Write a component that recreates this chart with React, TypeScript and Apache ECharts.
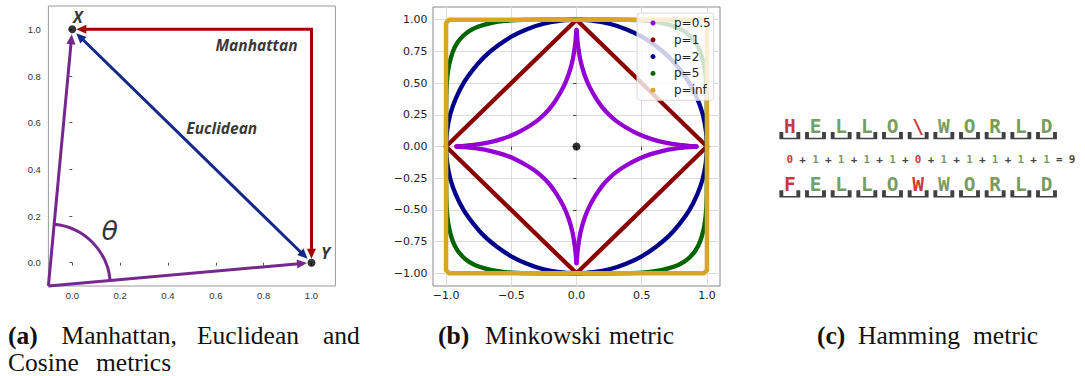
import React, { useEffect, useRef } from 'react';
import * as echarts from 'echarts';

type Pt = [number, number];

// ---------- (a) Manhattan, Euclidean and cosine geometry ----------
const pointX: Pt = [0, 1];
const pointY: Pt = [1, 0];
const vectorOrigin: Pt = [-0.1, -0.1];
const manhattanCorner: Pt = [1, 1];
const ticksA = [0, 0.2, 0.4, 0.6, 0.8, 1.0];
const annotationsA: { text: string; at: Pt }[] = [
  { text: 'Manhattan', at: [0.77, 0.933] },
  { text: 'Euclidean', at: [0.625, 0.576] },
];
const thetaAt: Pt = [0.157, 0.14];

// ---------- (b) Minkowski unit balls, first quadrant (mirrored to the others) ----------
const ballP05: Pt[] = [
  [0, 0.92], [0.003, 0.89], [0.01, 0.81], [0.03, 0.68], [0.06, 0.57], [0.1, 0.47],
  [0.15, 0.38], [0.2, 0.306], [0.25, 0.25], [0.306, 0.2], [0.38, 0.15], [0.47, 0.1],
  [0.57, 0.06], [0.68, 0.03], [0.81, 0.01], [0.89, 0.003], [0.92, 0],
];
const ballP1: Pt[] = [[0, 1], [1, 0]];
const ballP2: Pt[] = [
  [0, 1], [0.13, 0.991], [0.26, 0.966], [0.38, 0.925], [0.5, 0.866], [0.61, 0.79],
  [0.707, 0.707], [0.79, 0.61], [0.866, 0.5], [0.925, 0.38], [0.966, 0.26], [0.991, 0.13], [1, 0],
];
const ballP5: Pt[] = [
  [0, 1], [0.4, 0.998], [0.55, 0.99], [0.65, 0.975], [0.75, 0.947], [0.82, 0.912],
  [0.87, 0.871], [0.912, 0.82], [0.947, 0.75], [0.975, 0.65], [0.99, 0.55], [0.998, 0.4], [1, 0],
];
const ballPInf: Pt[] = [[0, 1], [0.975, 1], [1, 0.975], [1, 0]];
const pNames = ['p=0.5', 'p=1', 'p=2', 'p=5', 'p=inf'];
const centre: Pt = [0, 0];
const ticksBX = [-1, -0.5, 0, 0.5, 1];
const ticksBY = [-1, -0.75, -0.5, -0.25, 0, 0.25, 0.5, 0.75, 1];

// ---------- (c) Hamming comparison ----------
const wordTop = ['H', 'E', 'L', 'L', 'O', '\\', 'W', 'O', 'R', 'L', 'D'];
const wordBottom = ['F', 'E', 'L', 'L', 'O', 'W', 'W', 'O', 'R', 'L', 'D'];
const charMatch = [0, 1, 1, 1, 1, 0, 1, 1, 1, 1, 1];
const hammingSum = 9;

// ---------- captions: word, left edge, row, bold ----------
const captionWords: [string, number, number, boolean][] = [
  ['(a)', 8, 0, true],
  ['Manhattan,', 61.5, 0, false],
  ['Euclidean', 197, 0, false],
  ['and', 323, 0, false],
  ['Cosine', 8, 1, false],
  ['metrics', 96, 1, false],
  ['(b)', 438, 0, true],
  ['Minkowski', 485, 0, false],
  ['metric', 609, 0, false],
  ['(c)', 817, 0, true],
  ['Hamming', 858, 0, false],
  ['metric', 973, 0, false],
];

// ---------- styles ----------
const RED_A = '#a40000';
const BLUE_A = '#14288a';
const PURPLE_A = '#76288e';
const P_COLORS = ['#9400D3', '#8B0000', '#00008B', '#006400', '#DAA520'];
const GREEN_C = '#548235';
const RED_C = '#c00000';
const HEAD_LEN = 10;
const HEAD_HALF = 4.5;
const THETA_RADIUS = 62;
const SANS = '"DejaVu Sans", sans-serif';
const SANS_A = '"Liberation Sans", Arial, sans-serif';
const MONO = '"DejaVu Sans Mono", monospace';
const SERIF = '"Liberation Serif", "Times New Roman", serif';
const ITALIC_FONT = '"Open Sans", "DejaVu Sans", sans-serif';
const CAPTION_SIZE = 25.5;
const CAPTION_ROWS = [335, 362];

const minusFmt = (digits: number) => (v: number) => v.toFixed(digits).replace('-', '\u2212');

function towards(a: number[], b: number[], d: number): number[] {
  const dx = b[0] - a[0];
  const dy = b[1] - a[1];
  const len = Math.hypot(dx, dy) || 1;
  return [a[0] + (dx / len) * d, a[1] + (dy / len) * d];
}

function arrowHead(tip: number[], from: number[], color: string) {
  const dx = tip[0] - from[0];
  const dy = tip[1] - from[1];
  const len = Math.hypot(dx, dy) || 1;
  const ux = dx / len;
  const uy = dy / len;
  const bx = tip[0] - ux * HEAD_LEN;
  const by = tip[1] - uy * HEAD_LEN;
  return {
    type: 'polygon',
    shape: {
      points: [tip, [bx - uy * HEAD_HALF, by + ux * HEAD_HALF], [bx + uy * HEAD_HALF, by - ux * HEAD_HALF]],
    },
    style: { fill: color },
  };
}

// Polyline through data points with optional arrow heads, stopped short of the end points
function arrowSeries(path: Pt[], color: string, gap: number, headStart: boolean, headEnd: boolean) {
  return {
    type: 'custom',
    xAxisIndex: 0,
    yAxisIndex: 0,
    silent: true,
    z: 3,
    data: [[path[0][0], path[0][1]]],
    renderItem: (_params: any, api: any) => {
      const pts = path.map((p) => api.coord(p) as number[]);
      const n = pts.length;
      const line = pts.map((p) => p.slice());
      const heads: any[] = [];
      if (headStart) {
        const tip = towards(pts[0], pts[1], gap);
        heads.push(arrowHead(tip, pts[1], color));
        line[0] = towards(pts[0], pts[1], gap + HEAD_LEN * 0.8);
      }
      if (headEnd) {
        const tip = towards(pts[n - 1], pts[n - 2], gap);
        heads.push(arrowHead(tip, pts[n - 2], color));
        line[n - 1] = towards(pts[n - 1], pts[n - 2], gap + HEAD_LEN * 0.8);
      }
      return {
        type: 'group',
        children: [
          { type: 'polyline', shape: { points: line }, style: { stroke: color, lineWidth: 3, fill: 'none' } },
          ...heads,
        ],
      };
    },
  };
}

function buildOption(): any {
  const series: any[] = [];

  // (a)
  series.push(arrowSeries([pointY, manhattanCorner, pointX], RED_A, 4, true, true));
  series.push(arrowSeries([pointX, pointY], BLUE_A, 5.5, true, true));
  series.push(arrowSeries([vectorOrigin, pointX], PURPLE_A, 5, false, true));
  series.push(arrowSeries([vectorOrigin, pointY], PURPLE_A, 4.5, false, true));
  series.push({
    type: 'custom',
    xAxisIndex: 0,
    yAxisIndex: 0,
    silent: true,
    z: 3,
    data: [[vectorOrigin[0], vectorOrigin[1]]],
    renderItem: (_p: any, api: any) => {
      const o = api.coord(vectorOrigin);
      const toX = api.coord(pointX);
      const toY = api.coord(pointY);
      return {
        type: 'arc',
        shape: {
          cx: o[0],
          cy: o[1],
          r: THETA_RADIUS,
          startAngle: Math.atan2(toX[1] - o[1], toX[0] - o[0]),
          endAngle: Math.atan2(toY[1] - o[1], toY[0] - o[0]),
          clockwise: true,
        },
        style: { stroke: PURPLE_A, lineWidth: 3, fill: 'none' },
      };
    },
  });
  const pointLabel = {
    show: true,
    position: 'inside',
    fontFamily: ITALIC_FONT,
    fontWeight: 'bold',
    fontStyle: 'italic',
    fontSize: 16,
    color: '#000',
  };
  series.push({
    type: 'scatter',
    xAxisIndex: 0,
    yAxisIndex: 0,
    silent: true,
    z: 5,
    symbolSize: 8,
    itemStyle: { color: '#000' },
    data: [
      { name: 'X', value: pointX, label: { ...pointLabel, formatter: '{b}', offset: [5.5, -12] } },
      { name: 'Y', value: pointY, label: { ...pointLabel, formatter: '{b}', offset: [14, -9.5] } },
    ],
  });
  series.push({
    type: 'scatter',
    xAxisIndex: 0,
    yAxisIndex: 0,
    silent: true,
    z: 5,
    symbolSize: 1,
    itemStyle: { color: 'transparent' },
    label: { ...pointLabel, fontSize: 15.5, formatter: '{b}' },
    data: [
      ...annotationsA.map((a) => ({ name: a.text, value: a.at })),
      {
        name: '\u03b8',
        value: thetaAt,
        label: { fontFamily: SANS, fontWeight: 'normal', fontStyle: 'italic', fontSize: 27 },
      },
    ],
  });

  // (b)
  const balls = [ballP05, ballP1, ballP2, ballP5, ballPInf];
  const smoothness = [0.35, 0, 0.35, 0.35, 0];
  const quadrants = [[1, 1], [-1, 1], [-1, -1], [1, -1]];
  balls.forEach((pts, k) => {
    quadrants.forEach(([sx, sy]) => {
      series.push({
        type: 'line',
        name: pNames[k],
        xAxisIndex: 1,
        yAxisIndex: 1,
        silent: true,
        showSymbol: false,
        smooth: smoothness[k],
        data: pts.map(([x, y]) => [sx * x, sy * y]),
        itemStyle: { color: P_COLORS[k] },
        lineStyle: { color: P_COLORS[k], width: k === 4 ? 4.5 : 4.3, cap: 'round', join: 'round' },
        emphasis: { disabled: true },
      });
    });
  });
  series.push({
    type: 'scatter',
    xAxisIndex: 1,
    yAxisIndex: 1,
    silent: true,
    symbolSize: 8,
    z: 6,
    itemStyle: { color: '#000' },
    data: [centre],
  });

  // (c)
  const letterLabel = {
    show: true,
    position: 'inside',
    formatter: '{b}',
    fontFamily: MONO,
    fontWeight: 'bold',
    fontSize: 19.5,
  };
  const rows: [string[], number][] = [[wordTop, 2], [wordBottom, 0]];
  rows.forEach(([word, row]) => {
    series.push({
      type: 'scatter',
      xAxisIndex: 2,
      yAxisIndex: 2,
      silent: true,
      symbol: 'path://M0,0L0,6L17,6L17,0',
      symbolSize: [17, 6.5],
      symbolOffset: [0, 8.8],
      itemStyle: { color: 'transparent', borderColor: '#111', borderWidth: 2.4 },
      data: word.map((_c, i) => [i, row]),
    });
    series.push({
      type: 'scatter',
      xAxisIndex: 2,
      yAxisIndex: 2,
      silent: true,
      symbolSize: 1,
      itemStyle: { color: 'transparent' },
      label: letterLabel,
      z: 4,
      data: word.map((c, i) => ({
        name: c,
        value: [i, row],
        label: { color: charMatch[i] ? GREEN_C : RED_C },
      })),
    });
  });
  const eqLabel = {
    show: true,
    position: 'inside',
    formatter: '{b}',
    fontFamily: MONO,
    fontWeight: 'bold',
    fontSize: 11,
    offset: [0, 3.4],
    color: '#111',
  };
  series.push({
    type: 'scatter',
    xAxisIndex: 2,
    yAxisIndex: 2,
    silent: true,
    symbolSize: 1,
    itemStyle: { color: 'transparent' },
    label: eqLabel,
    data: [
      ...charMatch.map((m, i) => ({ name: String(m), value: [i, 1], label: { color: m ? GREEN_C : RED_C } })),
      ...charMatch.slice(1).map((_m, i) => ({ name: '+', value: [i + 0.5, 1] })),
      { name: '=', value: [charMatch.length - 0.5, 1] },
      { name: String(hammingSum), value: [charMatch.length, 1] },
    ],
  });

  const hiddenAxis = (gridIndex: number, min: number, max: number) => ({
    type: 'value',
    gridIndex,
    min,
    max,
    show: false,
    axisLine: { show: false },
    axisTick: { show: false },
    axisLabel: { show: false },
    splitLine: { show: false },
  });

  const axisA = (dir: 'x' | 'y') => ({
    type: 'value',
    gridIndex: 0,
    min: -0.1,
    max: 1.1,
    axisLine: { show: false },
    axisTick: { show: true, length: 3, customValues: ticksA, lineStyle: { color: '#555', width: 1 } },
    axisLabel: {
      customValues: ticksA,
      formatter: minusFmt(1),
      fontFamily: SANS_A,
      fontSize: 9.5,
      color: '#333',
      margin: dir === 'x' ? 4 : 7.5,
    },
    splitLine: { show: false },
  });

  const axisB = (dir: 'x' | 'y') => ({
    type: 'value',
    gridIndex: 1,
    min: -1.1,
    max: 1.1,
    axisLine: { show: false },
    axisTick: {
      show: true,
      length: 3.5,
      customValues: dir === 'x' ? ticksBX : ticksBY,
      lineStyle: { color: '#444', width: 1 },
    },
    axisLabel: {
      customValues: dir === 'x' ? ticksBX : ticksBY,
      formatter: minusFmt(dir === 'x' ? 1 : 2),
      fontFamily: SANS,
      fontSize: 11,
      color: '#222',
      margin: dir === 'x' ? 4 : 5.5,
    },
    splitLine: { show: true, lineStyle: { color: '#dcdcdc', width: 1 } },
  });

  const captions = captionWords.map(([text, left, row, bold]) => ({
    type: 'text',
    x: left,
    y: CAPTION_ROWS[row],
    silent: true,
    style: {
      text,
      fontFamily: SERIF,
      fontSize: CAPTION_SIZE,
      fontWeight: bold ? 'bold' : 'normal',
      fill: '#111',
      align: 'left',
      verticalAlign: 'middle',
    },
  }));

  return {
    animation: false,
    backgroundColor: '#fff',
    grid: [
      { left: 48.4, top: 6, width: 287, height: 280, show: true, borderColor: '#999', borderWidth: 1, backgroundColor: 'transparent' },
      { left: 433, top: 7, width: 287, height: 279, show: true, borderColor: '#888', borderWidth: 1, backgroundColor: 'transparent' },
      { left: 777, top: 126.5, width: 312.84, height: 58.2, show: false },
    ],
    xAxis: [axisA('x'), axisB('x'), hiddenAxis(2, -0.5, 11.5)],
    yAxis: [axisA('y'), axisB('y'), hiddenAxis(2, 0, 2)],
    legend: {
      orient: 'vertical',
      left: 637,
      top: 13,
      data: pNames,
      icon: 'circle',
      itemWidth: 5,
      itemHeight: 5,
      itemGap: 4.8,
      padding: [4, 3, 4, 13.5],
      backgroundColor: 'rgba(255,255,255,0.8)',
      borderColor: '#d8d8d8',
      borderWidth: 1,
      borderRadius: 3,
      selectedMode: false,
      textStyle: { fontFamily: SANS, fontSize: 12, color: '#222', lineHeight: 12, padding: [0, 0, 0, 13.5] },
    },
    series,
    graphic: captions,
  };
}

export default function App() {
  const ref = useRef<HTMLDivElement>(null);
  useEffect(() => {
    if (!ref.current) return;
    const chart = echarts.init(ref.current, null, { renderer: 'svg' });
    chart.setOption(buildOption());
    return () => chart.dispose();
  }, []);
  return (
    <div
      ref={ref}
      style={{ position: 'fixed', left: 0, top: 0, width: 1085, height: 376, background: '#fff' }}
    />
  );
}
